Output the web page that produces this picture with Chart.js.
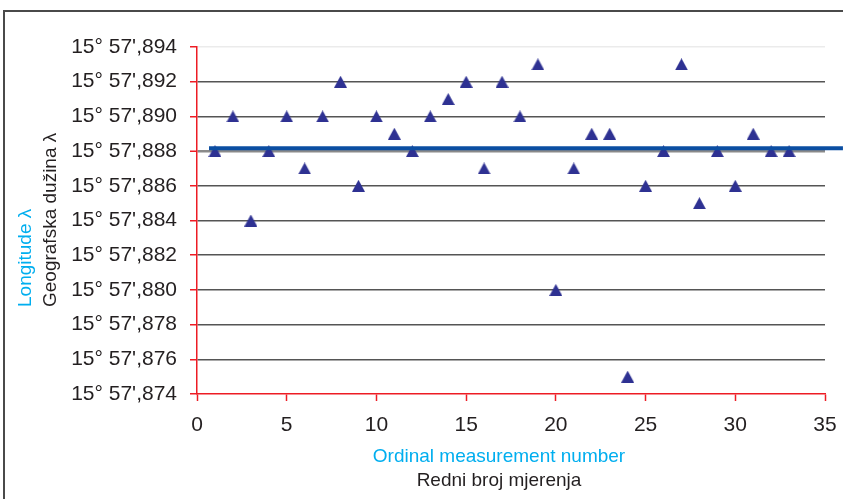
<!DOCTYPE html>
<html>
<head>
<meta charset="utf-8">
<script src="https://cdn.jsdelivr.net/npm/chart.js@4"></script>
<style>
  html, body { margin: 0; padding: 0; background: #fff; }
</style>
</head>
<body>
<canvas id="chart" width="843" height="499"></canvas>
<script>
// measurement number and longitude (thousandths of the minute: 15° 57',8xx)
const measurementNo = [1, 2, 3, 4, 5, 6, 7, 8, 9, 10, 11, 12, 13, 14, 15, 16, 17,
  18, 19, 20, 21, 22, 23, 24, 25, 26, 27, 28, 29, 30, 31, 32, 33];
const longitude = [888, 890, 884, 888, 890, 887, 890, 892, 886, 890, 889, 888, 890, 891, 892, 887, 892,
  890, 893, 880, 887, 889, 889, 875, 886, 888, 893, 885, 888, 886, 889, 888, 888];
const meanLine = [{ x: 0.67, y: 888.17 }, { x: 36, y: 888.17 }];
const yTicks = [874, 876, 878, 880, 882, 884, 886, 888, 890, 892, 894];
const xTicks = [0, 5, 10, 15, 20, 25, 30, 35];

const RED = "#ed1c24";
const CYAN = "#00aeef";
const TEXT = "#231f20";
const FONT = "'Liberation Sans', Arial, sans-serif";

// triangle marker centred on its bounding box (like the Excel one)
function triangleMarker(w, h, color) {
  const c = document.createElement("canvas");
  c.width = w;
  c.height = h;
  const g = c.getContext("2d");
  g.fillStyle = color;
  g.beginPath();
  g.moveTo(w / 2, 0);
  g.lineTo(w, h);
  g.lineTo(0, h);
  g.closePath();
  g.fill();
  return c;
}

// frame and the two-language axis titles
const decor = {
  id: "decor",
  beforeDraw(chart) {
    const ctx = chart.ctx;
    ctx.save();
    ctx.fillStyle = "#fff";
    ctx.fillRect(0, 0, chart.width, chart.height);
    ctx.strokeStyle = "#4a4a4a";
    ctx.lineWidth = 2;
    ctx.beginPath();
    ctx.moveTo(4, 499);
    ctx.lineTo(4, 11);
    ctx.lineTo(843, 11);
    ctx.stroke();
    ctx.restore();
  },
  afterDraw(chart) {
    const ctx = chart.ctx;
    ctx.save();
    ctx.font = "19px " + FONT;
    ctx.textBaseline = "alphabetic";
    // x title
    ctx.textAlign = "center";
    ctx.fillStyle = CYAN;
    ctx.fillText("Ordinal measurement number", 499, 462);
    ctx.fillStyle = TEXT;
    ctx.fillText("Redni broj mjerenja", 499, 486);
    // y title
    ctx.textAlign = "left";
    ctx.save();
    ctx.translate(31, 307);
    ctx.rotate(-Math.PI / 2);
    ctx.fillStyle = CYAN;
    ctx.fillText("Longitude λ", 0, 0);
    ctx.restore();
    ctx.save();
    ctx.translate(56, 307);
    ctx.rotate(-Math.PI / 2);
    ctx.fillStyle = TEXT;
    ctx.fillText("Geografska dužina λ", 0, 0);
    ctx.restore();
    ctx.restore();
  }
};

new Chart(document.getElementById("chart").getContext("2d"), {
  type: "scatter",
  data: {
    datasets: [
      {
        type: "line",
        data: meanLine,
        borderColor: "#0b4ea2",
        borderWidth: 4,
        pointRadius: 0,
        clip: false,
        order: 0
      },
      {
        data: measurementNo.map((n, i) => ({ x: n, y: longitude[i] })),
        pointStyle: triangleMarker(13, 12, "#2e3192"),
        pointRadius: 7,
        order: 1
      }
    ]
  },
  options: {
    responsive: false,
    animation: false,
    events: [],
    layout: { padding: { left: 0, right: 18, top: 47, bottom: 0 } },
    plugins: {
      legend: { display: false },
      tooltip: { enabled: false }
    },
    scales: {
      x: {
        type: "linear",
        min: 0,
        max: 35,
        afterBuildTicks(scale) {
          scale.ticks = xTicks.map(v => ({ value: v }));
        },
        afterFit(scale) {
          scale.height = 105;
          scale.paddingLeft = 0;
          scale.paddingRight = 0;
        },
        grid: {
          drawOnChartArea: false,
          tickLength: 7,
          tickColor: RED,
          tickWidth: 1.5
        },
        border: { color: RED, width: 1.5 },
        ticks: {
          color: TEXT,
          padding: 12,
          maxRotation: 0,
          font: { family: FONT, size: 21 }
        }
      },
      y: {
        min: 874,
        max: 894,
        afterBuildTicks(scale) {
          scale.ticks = yTicks.map(v => ({ value: v }));
        },
        afterFit(scale) {
          scale.width = 197;
          scale.paddingTop = 0;
          scale.paddingBottom = 0;
        },
        grid: {
          color(c) {
            const v = c.tick ? c.tick.value : 0;
            if (v === 874) return "rgba(0,0,0,0)";
            if (v === 894) return "#ebebeb";
            if (v === 888) return "#8a8a8a";
            return "#555";
          },
          lineWidth(c) {
            return c.tick && c.tick.value === 888 ? 2.5 : 1.5;
          },
          tickLength: 7,
          tickColor: RED,
          tickWidth: 1.5
        },
        border: { color: RED, width: 1.5 },
        ticks: {
          color: TEXT,
          padding: 13,
          font: { family: FONT, size: 21 },
          callback: v => "15° 57'," + v
        }
      }
    }
  },
  plugins: [decor]
});
</script>
</body>
</html>
